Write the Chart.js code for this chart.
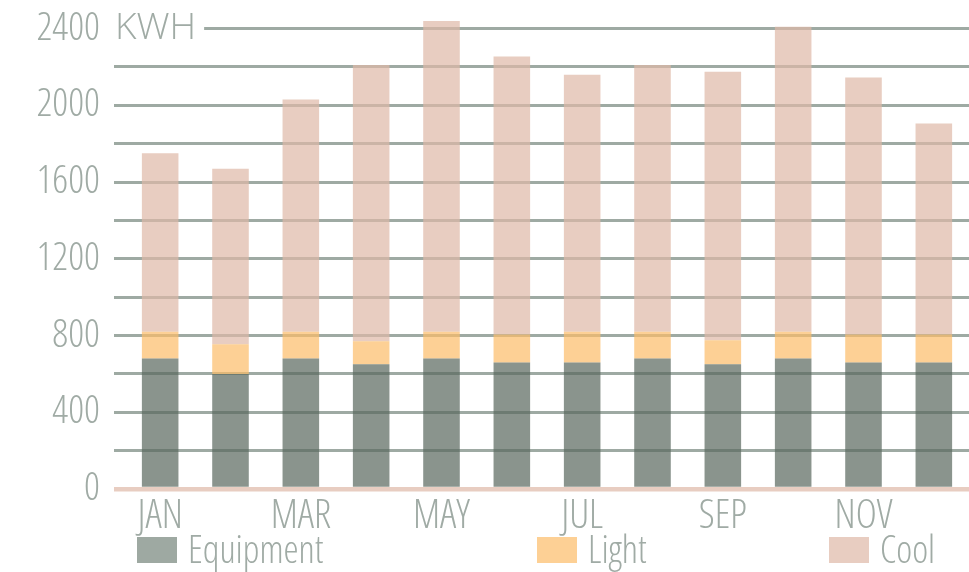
<!DOCTYPE html>
<html>
<head>
<meta charset="utf-8">
<script src="https://cdn.jsdelivr.net/npm/chart.js@4.4.1/dist/chart.umd.min.js"></script>
<style>
  html, body { margin: 0; padding: 0; background: #fff; overflow: hidden; }
  #wrap { position: relative; width: 969px; height: 572px; }
  #legend { position: absolute; left: 0; top: 537px; width: 969px; height: 30px; }
  .item { position: absolute; top: 0; display: flex; align-items: center; height: 26px; }
  .swatch { width: 40px; height: 26px; margin-right: 11px; }
  .item span {
    font-family: 'Open Sans', sans-serif; font-weight: 300; font-stretch: condensed;
    font-size: 38px; line-height: 26px; color: #a0aba5; white-space: nowrap;
    position: relative; top: -2px;
  }
</style>
</head>
<body>
<div id="wrap">
  <canvas id="chart"></canvas>
  <div id="legend"></div>
</div>
<script>
const months = ['JAN', 'FEB', 'MAR', 'APR', 'MAY', 'JUN', 'JUL', 'AUG', 'SEP', 'OCT', 'NOV', 'DEC'];
const equipment = [680, 600, 680, 650, 680, 660, 660, 680, 650, 680, 660, 660];
const light     = [140, 155, 140, 120, 140, 145, 160, 140, 125, 140, 145, 145];
const cool      = [930, 915, 1210, 1440, 1620, 1450, 1340, 1390, 1400, 1590, 1340, 1100];
const seriesNames = ['Equipment', 'Light', 'Cool'];
const unit = 'KWH';
const yMax = 2400, yStep = 200, yLabelStep = 400;

// look
const FAMILY = "'Open Sans', sans-serif";
const WEIGHT = '300 condensed';
const TEXT_COLOR = '#a0aba5';
const GRID_COLOR = '#9eaaa3';
const BASE_COLOR = '#e8cdc1';
const barColors = ['rgba(88,102,92,0.7)', 'rgba(252,188,104,0.7)', 'rgba(222,184,166,0.7)'];
const swatchColors = ['#9ea9a2', '#fdd095', '#e8cdc1'];
const legendLeft = [137, 537, 829];

// "KWH" next to the top tick, the top grid line starts after it
const unitLabel = {
    id: 'unitLabel',
    beforeDatasetsDraw(chart) {
        const ys = chart.scales.y, ctx = chart.ctx;
        const py = ys.getPixelForValue(yMax);
        const x0 = chart.chartArea.left - 10;
        ctx.save();
        ctx.font = `300 37px ${FAMILY}`;
        const w = ctx.measureText(unit).width;
        ctx.fillStyle = '#fff';
        ctx.fillRect(ys.right - 13, py - 3, x0 + w + 8 - (ys.right - 13), 6);
        ctx.fillStyle = TEXT_COLOR;
        ctx.textBaseline = 'middle';
        ctx.fillText(unit, x0, py);
        ctx.restore();
    }
};

const chart = new Chart(document.getElementById('chart'), {
    type: 'bar',
    data: {
        labels: months,
        datasets: [equipment, light, cool].map((d, i) => ({
            label: seriesNames[i],
            data: d,
            backgroundColor: barColors[i],
            borderWidth: 0,
            categoryPercentage: 1,
            barPercentage: 0.52,
            clip: false
        }))
    },
    options: {
        responsive: true,
        maintainAspectRatio: false,
        animation: false,
        layout: { padding: { top: 28, right: 0, bottom: 27, left: 0 } },
        plugins: { legend: { display: false }, tooltip: { enabled: false } },
        scales: {
            x: {
                stacked: true,
                grid: { display: false, drawTicks: false },
                border: { display: false },
                ticks: {
                    autoSkip: false, maxRotation: 0, padding: 8,
                    color: TEXT_COLOR, font: { family: FAMILY, weight: WEIGHT, size: 40, lineHeight: 1 },
                    callback: (v, i) => i % 2 === 0 ? months[i] : ''
                }
            },
            y: {
                stacked: true,
                min: 0, max: yMax,
                afterFit: s => { s.width = 125; },
                border: { display: false },
                grid: {
                    color: c => c.tick.value === 0 ? BASE_COLOR : GRID_COLOR,
                    lineWidth: c => c.tick.value === 0 ? 4.5 : 3,
                    tickLength: 11
                },
                ticks: {
                    stepSize: yStep, padding: 14,
                    color: TEXT_COLOR, font: { family: FAMILY, weight: WEIGHT, size: 39, lineHeight: 0.75 },
                    callback: v => v % yLabelStep === 0 ? v : ''
                }
            }
        }
    },
    plugins: [unitLabel]
});

// html legend from the datasets
const legend = document.getElementById('legend');
chart.data.datasets.forEach((ds, i) => {
    const item = document.createElement('div');
    item.className = 'item';
    item.style.left = legendLeft[i] + 'px';
    item.innerHTML = `<div class="swatch" style="background:${swatchColors[i]}"></div><span>${ds.label}</span>`;
    legend.appendChild(item);
});
</script>
</body>
</html>
